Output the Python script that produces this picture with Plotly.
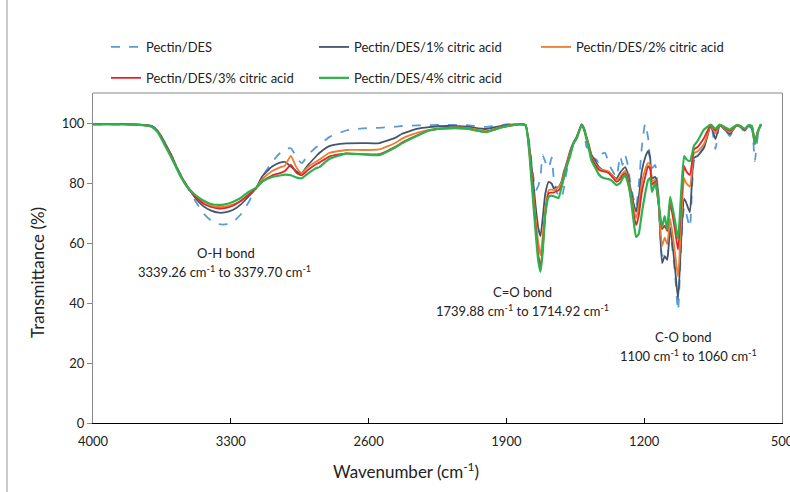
import plotly.graph_objects as go

# Wavenumber grid (cm-1)
wavenumber = [4000, 3850, 3750, 3700, 3670, 3640, 3600, 3560, 3520, 3480, 3440, 3400, 3360, 3330, 3290,
              3250, 3210, 3170, 3140, 3090, 3050, 3025, 2995, 2965, 2940, 2905, 2865, 2850, 2800, 2714,
              2630, 2546, 2460, 2430, 2350, 2293, 2200, 2100, 2004, 1920, 1837, 1803, 1785, 1771, 1751,
              1738, 1727, 1716, 1702, 1685, 1670, 1660, 1645, 1635, 1620, 1609, 1599, 1575, 1559, 1543,
              1518, 1505, 1493, 1483, 1468, 1447, 1432, 1417, 1398, 1381, 1365, 1341, 1322, 1310, 1297,
              1285, 1271, 1255, 1241, 1228, 1212, 1195, 1180, 1170, 1160, 1144, 1129, 1109, 1096, 1083,
              1068, 1044, 1028, 1013, 997, 987, 968, 947, 929, 896, 861, 838, 817, 790, 765,
              731, 710, 689, 670, 653, 638, 622, 607]

pectin_des = [99.5, 99.5, 99.4, 99.0, 97.5, 94, 89, 83.5, 78.5, 74, 70, 67.5, 66.3, 66.2, 67,
              69.5, 73.5, 78.5, 82, 87, 90, 91.3, 91.6, 88.5, 86.6, 89.5, 92, 92.6, 95.3, 97.5,
              98.2, 98.4, 98.8, 99, 99.2, 99.3, 99.4, 99.3, 98.7, 99.4, 99.7, 99.3, 94, 86, 77.6,
              79, 82, 89.3, 87, 85, 88.5, 82, 77, 75.8, 75, 78, 82, 90, 93.3, 95.5,
              99.5, 97.5, 92, 91.5, 88.5, 88, 87, 89.7, 90, 86.6, 84.5, 82, 89, 86, 89.3,
              86.5, 80.5, 75, 72, 79, 92, 99.8, 95, 87.6, 85, 86, 76, 55.6, 57, 55,
              63.5, 50, 37.5, 58, 72, 70, 65.3, 87.3, 89, 92, 99.7, 91.3, 99, 98, 95.6,
              99.2, 98.5, 97, 99, 98, 87.3, 96, 99.2]

ca_1 = [99.6, 99.6, 99.4, 99.0, 97.3, 94, 89, 83.3, 78.8, 75, 72.3, 70.8, 70.1, 70.2, 71,
        72.8, 75.5, 78.5, 82.2, 85.5, 86.8, 87, 85.5, 83.8, 83.3, 86.2, 89, 90, 92.3, 93.2,
        93.3, 93.3, 95.2, 96.4, 98.1, 98.6, 99, 98.8, 98, 99.1, 99.6, 99.4, 93, 85, 72,
        65, 62.3, 68, 76.6, 80.4, 79.8, 78.3, 78.5, 78.7, 80.5, 83.5, 85.5, 91, 93.5, 95.3,
        99.5, 98.2, 95.4, 93.2, 89.5, 87.2, 85.5, 84.6, 84, 83.7, 82.6, 81.5, 83.5, 84.5, 85.3,
        83.5, 78.7, 73.5, 70.4, 75, 84, 88.5, 90.7, 88.5, 81.6, 82, 77, 53.3, 55.6, 54.4,
        65.3, 52, 41.4, 60, 74.8, 73.5, 70.3, 88.4, 89, 91.8, 99.2, 94.6, 99.2, 97.7, 96.3,
        99.2, 98.8, 98, 99.2, 99, 94, 97.5, 99.5]

ca_2 = [99.6, 99.6, 99.4, 98.8, 97, 93.5, 88.5, 83, 78.8, 75.8, 73.8, 72.5, 72, 72.1, 72.8,
        74, 76.2, 78.5, 81.3, 84, 85.2, 85.8, 89, 85, 83.3, 85.5, 87.2, 87.8, 90, 91,
        91, 91.2, 93.5, 94.8, 96.8, 97.7, 98.4, 98.4, 97.3, 98.8, 99.6, 99.3, 92, 82, 68,
        60, 56, 62, 72, 77.6, 77.8, 77.6, 78.2, 78.6, 80, 82.8, 85, 90.5, 93.3, 95.2,
        99.3, 98, 95, 92.6, 88.6, 86.2, 85, 84.5, 84.2, 83.8, 82.8, 81, 82, 83.2, 84,
        82.2, 77.5, 71.8, 68.3, 72, 80, 84.5, 86.7, 86, 80.8, 81, 75, 59, 61.8, 59.6,
        68, 57, 48.8, 66, 81.6, 80, 78.8, 90, 90.5, 93, 99.3, 96.5, 99.3, 98, 97,
        99.2, 98.8, 97.8, 99, 99, 93.5, 97.5, 99.5]

ca_3 = [99.6, 99.6, 99.4, 98.8, 97, 93.5, 88.5, 83, 78.6, 75.5, 73.2, 72, 71.5, 71.6, 72.4,
        74, 76, 78.3, 80.5, 82.5, 83.3, 84, 86, 83.3, 82.6, 84.5, 86.3, 86.8, 88.8, 89.9,
        89.6, 89.6, 92.2, 93.5, 96, 97.5, 98.2, 98.1, 97, 98.6, 99.5, 99.3, 91.5, 80.5, 65,
        56, 52.1, 58, 69.5, 76.6, 76.8, 76.8, 77.3, 77.6, 79, 81.8, 84.5, 89.8, 93.2, 95,
        99.3, 97.8, 94.8, 92.3, 88.2, 85.8, 84.5, 84, 83.8, 83.3, 82.2, 80.4, 81.3, 82.5, 83.2,
        81.5, 76.5, 70, 66, 69, 77, 82, 85.6, 84.8, 79.5, 80.5, 74, 64.6, 65.8, 64,
        73.1, 64.5, 57.8, 72, 85.6, 84, 82.7, 91.2, 92, 95, 99.4, 97.5, 99.4, 98.3, 97.5,
        99.2, 98.9, 97.5, 99, 98.5, 93, 97, 99.5]

ca_4 = [99.5, 99.5, 99.3, 98.7, 96.8, 93.2, 88.2, 82.8, 78.6, 76, 74.2, 73, 72.7, 72.9, 73.7,
        75, 77, 78.5, 80.5, 82, 82.5, 82.8, 82.6, 81.8, 81.6, 83.3, 85, 85.3, 88, 89.8,
        89.5, 89.3, 92, 93.2, 95.8, 97.5, 98.2, 98.1, 97, 98.6, 99.5, 99.2, 91, 79.5, 63,
        54, 50.4, 56.6, 70, 75.4, 75.8, 75.6, 75.2, 75, 78.5, 81.5, 84.3, 89.3, 93.2, 94.8,
        99.2, 97.8, 94.6, 92, 87.5, 84.8, 83, 82, 81.5, 81.3, 80.8, 79.3, 80, 81.5, 82.6,
        80.5, 76.3, 68, 62, 63, 70, 76.5, 81, 81.6, 77, 80, 74.5, 65.3, 69, 64.6,
        75.4, 67.5, 61.3, 76, 89, 88, 87.3, 92.4, 94, 97.8, 99.5, 98, 99.5, 98.6, 97.8,
        99.3, 99, 98, 99.3, 98.8, 93, 97, 99.7]

series_names = ["Pectin/DES", "Pectin/DES/1% citric acid", "Pectin/DES/2% citric acid",
                "Pectin/DES/3% citric acid", "Pectin/DES/4% citric acid"]
series_values = [pectin_des, ca_1, ca_2, ca_3, ca_4]
series_colors = ["#5B9BD5", "#44546A", "#ED7D31", "#E0262B", "#2EB24C"]
series_dash = ["dash", "solid", "solid", "solid", "solid"]
series_width = [1.8, 1.8, 1.8, 1.8, 2.2]
series_legend = ["legend", "legend2", "legend3", "legend", "legend2"]

x_ticks = [4000, 3300, 2600, 1900, 1200, 500]
y_ticks = [0, 20, 40, 60, 80, 100]

FONT = "Lato, 'Open Sans', sans-serif"

# plot area geometry (pixels)
L, R, T, B = 93, 8, 93, 69
W, H = 790, 492
PW, PH = W - L - R, H - T - B


def px(xp):
    return (xp - L) / PW


def py(yp):
    return (H - B - yp) / PH


fig = go.Figure()
for name, vals, col, dash, lw, lg in zip(series_names, series_values, series_colors,
                                           series_dash, series_width, series_legend):
    fig.add_trace(go.Scatter(
        x=wavenumber, y=vals, mode="lines", name=name, legend=lg, legendgroup=name,
        line=dict(color=col, width=lw, dash=dash, shape="spline", smoothing=0.5),
        hoverinfo="x+y+name"))

legend_common = dict(xanchor="left", yanchor="top", orientation="v", traceorder="grouped",
                     tracegroupgap=11, bgcolor="rgba(0,0,0,0)", borderwidth=0,
                     font=dict(family=FONT, size=13, color="#222222"), itemwidth=30)

fig.update_layout(
    width=W, height=H,
    margin=dict(l=L, r=R, t=T, b=B, pad=0, autoexpand=False),
    paper_bgcolor="white", plot_bgcolor="white",
    font=dict(family=FONT, size=13, color="#222222"),
    showlegend=True,
    legend=dict(x=px(106), y=py(32), **legend_common),
    legend2=dict(x=px(314), y=py(32), **legend_common),
    legend3=dict(x=px(536), y=py(32), **legend_common),
    xaxis=dict(range=[4000, 500], tickmode="array", tickvals=x_ticks,
               ticktext=[str(v) for v in x_ticks], showgrid=False, zeroline=False,
               showline=True, linecolor="#000000", linewidth=1.3,
               ticks="inside", ticklen=5, tickcolor="#000000", ticklabeloverflow="allow",
               ticklabelstandoff=6,
               tickfont=dict(family=FONT, size=13, color="#222222")),
    yaxis=dict(range=[0, 110], tickmode="array", tickvals=y_ticks, showgrid=False,
               zeroline=False, showline=True, linecolor="#888888", linewidth=1.2,
               mirror=True, ticks="outside", ticklen=5, tickcolor="#888888",
               tickfont=dict(family=FONT, size=13, color="#222222")),
)

# top frame line of the plot area and outer chart frame (left edge)
fig.add_shape(type="line", xref="paper", yref="paper", x0=0, x1=1, y0=1, y1=1,
              line=dict(color="#888888", width=1.2))
fig.add_shape(type="line", xref="paper", yref="paper", x0=px(7), x1=px(7), y0=py(0), y1=py(492),
              line=dict(color="#999999", width=1))

# axis titles
fig.add_annotation(text="Wavenumber (cm<sup>-1</sup>)", xref="paper", yref="paper",
                   x=px(406), y=py(470), showarrow=False, xanchor="center", yanchor="middle",
                   font=dict(family=FONT, size=17, color="#222222"))
fig.add_annotation(text="Transmittance (%)", xref="paper", yref="paper",
                   x=px(37), y=py(273), showarrow=False, textangle=-90,
                   xanchor="center", yanchor="middle",
                   font=dict(family=FONT, size=17, color="#222222"))

# band annotations
notes = [
    ("O-H bond", 226, 253),
    ("3339.26 cm<sup>-1</sup> to 3379.70 cm<sup>-1</sup>", 224, 271),
    ("C=O bond", 522, 292),
    ("1739.88 cm<sup>-1</sup> to 1714.92 cm<sup>-1</sup>", 522, 310),
    ("C-O bond", 683, 337),
    ("1100 cm<sup>-1</sup> to 1060 cm<sup>-1</sup>", 688, 355),
]
for txt, xp, yp in notes:
    fig.add_annotation(text=txt, xref="paper", yref="paper", x=px(xp), y=py(yp),
                       showarrow=False, xanchor="center", yanchor="middle",
                       font=dict(family=FONT, size=13, color="#222222"))

# the page's default 8px body margin would shift the figure; remove it
fig.write_html("out.html", config={"displayModeBar": False},
               post_script="document.body.style.margin='0px';")
